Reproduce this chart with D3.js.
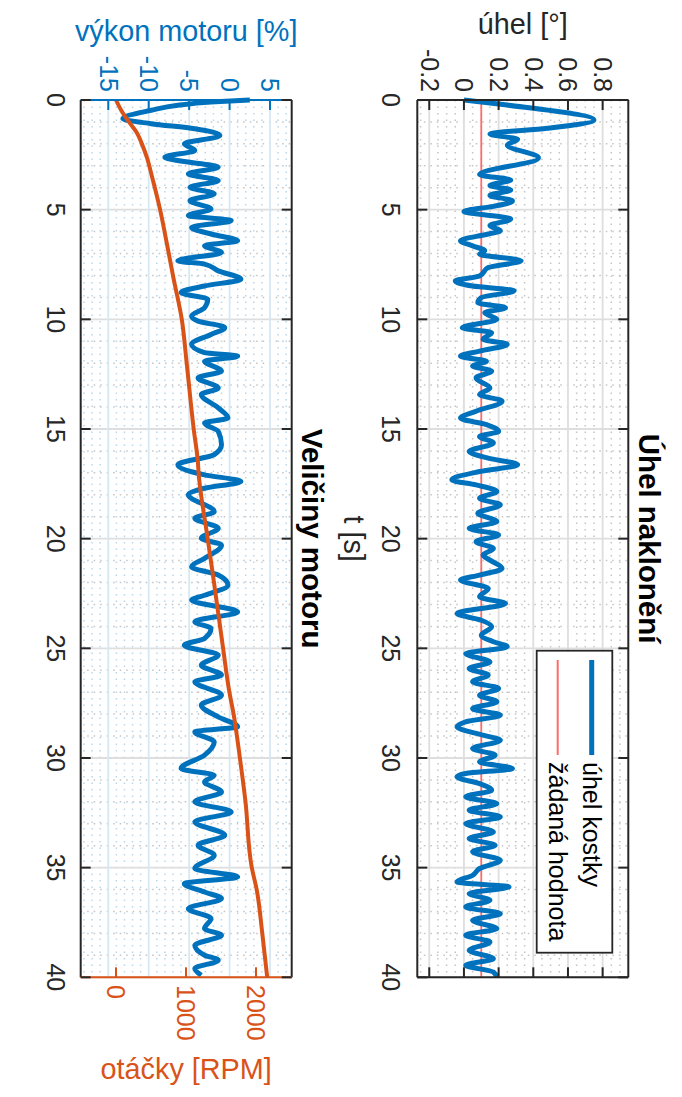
<!DOCTYPE html>
<html><head><meta charset="utf-8">
<script src="https://cdn.jsdelivr.net/npm/d3@7"></script>
<style>
body{margin:0;background:#fff}
svg{display:block}
text{font-family:"Liberation Sans",Arial,Helvetica,sans-serif;fill:#262626}
</style>
</head><body>
<svg id="c" width="682" height="1097"></svg>
<script>
// ---------- data ----------
const tTicks = [0,5,10,15,20,25,30,35,40];
const angleTicks = [-0.2,0,0.2,0.4,0.6,0.8];
const angleTickLabels = ["-0.2","0","0.2","0.4","0.6","0.8"];
const powerTicks = [-15,-10,-5,0,5];
const powerTickLabels = ["-15","-10","-5","0","5"];
const rpmTicks = [0,1000,2000];
const rpmTickLabels = ["0","1000","2000"];
const setpoint = 0.1;

const angleTime = [0,0.23,0.91,1.29,1.55,1.79,2.05,2.64,3.40,3.65,3.9,4.1,4.35,4.6,4.85,5.08,5.43,5.73,5.96,6.11,6.42,6.65,6.87,7.03,7.33,7.64,8.02,8.25,8.48,8.70,9.01,9.24,9.47,9.70,10.0,10.38,10.61,10.91,11.14,11.45,11.68,11.91,12.13,12.36,12.67,13.13,13.43,13.73,14.19,14.50,14.80,15.11,15.34,15.64,16.02,16.33,16.63,16.94,17.32,17.55,17.85,18.16,18.46,18.84,19.22,19.53,19.83,
 20.14,20.45,20.75,20.98,21.36,21.66,21.89,22.27,22.65,22.96,23.41,23.72,24.02,24.40,24.70,24.93,25.24,25.62,25.92,26.22,26.53,26.83,27.14,27.44,27.75,28.05,28.35,28.58,28.96,29.19,29.57,29.87,30.18,30.48,30.71,30.86,31.17,31.47,31.77,32.08,32.38,32.69,32.99,33.37,33.67,33.98,34.28,34.66,35.04,35.35,35.65,35.88,36.18,36.49,36.79,37.10,37.40,37.78,38.08,38.39,38.77,39.15,39.45,39.76,40.0];
const angleValue = [0,0.25,0.75,0.48,0.15,0.31,0.25,0.43,0.09,0.27,0.15,0.27,0.15,0.28,0.17,0.00,0.27,0.15,0.21,0.14,-0.02,0.05,0.12,0.09,0.33,0.14,0.09,-0.05,0.05,0.29,0.10,0.08,0.24,0.12,0.19,-0.01,0.16,0.11,0.25,0.09,-0.02,0.13,0.05,0.16,0.07,0.15,0.09,0.22,0.07,-0.02,0.13,0.20,0.09,0.17,0.03,0.14,0.31,0.09,-0.07,0.07,0.19,0.09,0.21,0.08,0.19,0.03,0.20,
 0.07,0.17,0.11,0.15,0.22,0.09,-0.02,0.14,0.09,0.24,-0.04,0.10,0.16,0.10,0.17,0.25,0.01,0.15,0.03,0.14,0.05,0.20,0.09,0.19,0.05,0.21,0.01,-0.04,0.11,0.21,0.05,0.18,0.09,0.28,0.01,-0.04,0.09,0.16,0.01,0.19,0.03,0.21,0.01,0.17,0.03,0.18,0.05,0.21,0.09,0.05,-0.04,0.26,0.03,0.15,0.01,0.21,0.05,0.19,0.01,0.15,0.03,0.17,0.01,0.17,0.19];

const powerTime = [0,0.09,0.24,0.47,0.85,1.08,1.31,1.62,2.0,2.30,2.61,2.76,3.06,3.37,3.67,3.98,4.28,4.59,4.97,5.27,5.50,5.81,6.11,6.42,6.65,6.95,7.33,7.48,7.79,8.17,8.48,8.78,9.09,9.47,9.85,10.08,10.38,10.69,11.14,11.52,11.68,11.91,12.36,12.67,13.13,13.43,14.04,14.50,14.73,15.11,15.72,16.17,16.63,17.09,17.39,17.70,18.0,18.77,19.07,19.53,19.98,
 20.30,20.90,21.28,21.66,22.12,22.58,22.80,23.34,23.79,24.10,24.55,24.86,25.31,25.77,26.22,26.53,27.14,27.59,28.13,28.58,28.81,29.27,29.87,30.48,30.79,31.09,31.55,32.0,32.46,32.91,33.52,33.98,34.43,35.04,35.42,35.73,36.11,36.41,36.87,37.32,37.78,38.08,38.54,38.99,39.22,39.60,39.91];
const powerValue = [2.5,-2.3,-6.4,-9.7,-13.2,-9.7,-4.3,-1.2,-5.6,-4.3,-8.0,-6.4,-1.4,-5.1,-1.4,-4.9,-1.9,-4.9,-2.3,-5.1,0.2,-4.7,-2.3,1.0,-3.1,-1.0,-6.4,-3.1,-1.4,1.4,-3.1,-6.0,-2.7,-3.1,-4.7,-3.9,-0.6,-2.3,-4.7,-3.1,1.0,-3.1,-1.0,-3.9,-1.4,-3.5,-1.4,-0.2,-3.1,-1.4,-1.0,-1.9,-6.4,-3.1,1.4,-3.1,-5.1,-1.9,-4.3,-1.4,-3.5,
 -1.0,-3.1,-4.7,-1.4,-0.2,-3.1,-4.7,1.0,-4.3,-2.3,-3.1,-5.6,-1.4,-3.5,-1.0,-4.3,-1.0,-3.5,-1.4,1.0,-4.3,-1.9,-3.1,-6.0,-1.9,-3.1,-1.0,-4.3,0.2,-4.3,-0.6,-3.9,-1.9,-4.3,1.0,-5.6,-3.1,-1.0,-5.1,-2.3,-3.1,-1.0,-4.3,-3.1,-1.4,-4.3,-3.5];

const rpmTime = [0,0.5,1,1.5,2,2.6,3.5,5,6.6,8.1,10,12,15,16.5,17,20,22,25,27,28,30,32,35,36,38,40];
const rpmValue = [0,80,185,300,370,440,515,630,730,820,940,1010,1110,1170,1180,1310,1400,1530,1620,1680,1770,1850,1940,2010,2090,2160];

// ---------- style ----------
const BLUE = "#0072BD", ORANGE = "#D95319", RED = "#FF6A6A", AX = "#262626";
const tickFont = 25, labelFont = 28.8, titleFont = 29.5;

const svg = d3.select("#c");
svg.append("rect").attr("width",682).attr("height",1097).attr("fill","#fff");
// original (unrotated) frame: 1097 wide x 682 tall, turned 90° clockwise
const g = svg.append("g").attr("transform","translate(682,0) rotate(90)");

const x = d3.scaleLinear().domain([0,40]).range([100,977.3]);
const yA = d3.scaleLinear().domain([-0.269,0.948]).range([264.7,53.7]);
const yP = d3.scaleLinear().domain([-18.41,7.68]).range([601.3,390.3]);
const yR = d3.scaleLinear().domain([-504,2510]).range([601.3,390.3]);

const tMinor = d3.range(0,40.001,1);

function grid(gg, y, minorVals, majorVals, colMaj, colMin, tColMaj, tColMin){
  const [y0,y1] = y.range();
  const [x0,x1] = x.range();
  gg.selectAll(null).data(tMinor.filter(v=>v%5!==0)).enter().append("line")
    .attr("x1",d=>x(d)).attr("x2",d=>x(d)).attr("y1",y0).attr("y2",y1)
    .attr("stroke",tColMin).attr("stroke-width",1.5).attr("stroke-dasharray","1.5,5");
  gg.selectAll(null).data(minorVals).enter().append("line")
    .attr("y1",d=>y(d)).attr("y2",d=>y(d)).attr("x1",x0).attr("x2",x1)
    .attr("stroke",colMin).attr("stroke-width",1.5).attr("stroke-dasharray","1.5,5");
  gg.selectAll(null).data(tTicks).enter().append("line")
    .attr("x1",d=>x(d)).attr("x2",d=>x(d)).attr("y1",y0).attr("y2",y1)
    .attr("stroke",tColMaj).attr("stroke-width",1.8);
  gg.selectAll(null).data(majorVals).enter().append("line")
    .attr("y1",d=>y(d)).attr("y2",d=>y(d)).attr("x1",x0).attr("x2",x1)
    .attr("stroke",colMaj).attr("stroke-width",1.8);
}

// ===== upper axes: Úhel naklonění =====
const up = g.append("g");
up.append("rect").attr("x",100).attr("y",53.7).attr("width",877.3).attr("height",211).attr("fill","#fff");
const aMinor = d3.range(-0.25,0.95,0.05).filter(v=>Math.abs(Math.round(v*100)%20)!==0 && v>yA.domain()[0] && v<yA.domain()[1]);
grid(up, yA, aMinor, angleTicks, "#dedede", "#c4c4c4", "#dedede", "#c4c4c4");

up.append("line").attr("x1",x(0)).attr("x2",x(40)).attr("y1",yA(setpoint)).attr("y2",yA(setpoint))
  .attr("stroke",RED).attr("stroke-width",1.8);
const angleLine = d3.line().x(d=>x(d[0])).y(d=>yA(d[1])).curve(d3.curveMonotoneX);
up.append("path").datum(d3.zip(angleTime,angleValue)).attr("d",angleLine)
  .attr("fill","none").attr("stroke",BLUE).attr("stroke-width",5).attr("stroke-linejoin","round");

function box(gg, y, y0, y1, cLeft, cRight){
  const X0=x(0), X1=x(40);
  gg.append("line").attr("x1",X0).attr("x2",X1).attr("y1",y0).attr("y2",y0).attr("stroke",AX).attr("stroke-width",2);
  gg.append("line").attr("x1",X0).attr("x2",X1).attr("y1",y1).attr("y2",y1).attr("stroke",AX).attr("stroke-width",2);
  gg.append("line").attr("x1",X0).attr("x2",X0).attr("y1",y0).attr("y2",y1).attr("stroke",cLeft).attr("stroke-width",2);
  gg.append("line").attr("x1",X1).attr("x2",X1).attr("y1",y0).attr("y2",y1).attr("stroke",cRight).attr("stroke-width",2);
  gg.selectAll(null).data(tTicks).enter().append("line")
    .attr("x1",d=>x(d)).attr("x2",d=>x(d)).attr("y1",y0).attr("y2",y0-10).attr("stroke",AX).attr("stroke-width",2);
  gg.selectAll(null).data(tTicks).enter().append("line")
    .attr("x1",d=>x(d)).attr("x2",d=>x(d)).attr("y1",y1).attr("y2",y1+10).attr("stroke",AX).attr("stroke-width",2);
}
box(up, yA, 264.7, 53.7, AX, AX);
up.selectAll(null).data(angleTicks).enter().append("line")
  .attr("x1",x(0)).attr("x2",x(0)+10).attr("y1",d=>yA(d)).attr("y2",d=>yA(d)).attr("stroke",AX).attr("stroke-width",2);
up.selectAll(null).data(angleTicks).enter().append("line")
  .attr("x1",x(40)).attr("x2",x(40)-10).attr("y1",d=>yA(d)).attr("y2",d=>yA(d)).attr("stroke",AX).attr("stroke-width",2);

up.selectAll(null).data(tTicks).enter().append("text")
  .attr("x",d=>x(d)).attr("y",300).attr("text-anchor","middle").attr("font-size",tickFont).text(d=>d);
up.selectAll(null).data(angleTicks).enter().append("text")
  .attr("x",92).attr("y",d=>yA(d)).attr("dy","0.35em").attr("text-anchor","end").attr("font-size",tickFont)
  .text((d,i)=>angleTickLabels[i]);
up.append("text").attr("transform","translate(34,159.2) rotate(-90)").attr("text-anchor","middle")
  .attr("font-size",labelFont).text("úhel [°]");
up.append("text").attr("x",538.6).attr("y",338).attr("text-anchor","middle").attr("font-size",labelFont).text("t [s]");
up.append("text").attr("x",538.6).attr("y",43.4).attr("text-anchor","middle").attr("font-size",titleFont)
  .attr("font-weight","bold").style("fill","#000").text("Úhel naklonění");

const lg = up.append("g");
lg.append("rect").attr("x",650.7).attr("y",69.7).attr("width",302).attr("height",75.6)
  .attr("fill","#fff").attr("stroke",AX).attr("stroke-width",1.8);
const legItems = [["úhel kostky",BLUE,5,90.3],["žádaná hodnota",RED,2,124.3]];
legItems.forEach(([name,col,w,yy])=>{
  lg.append("line").attr("x1",660).attr("x2",755).attr("y1",yy).attr("y2",yy).attr("stroke",col).attr("stroke-width",w);
  lg.append("text").attr("x",762).attr("y",yy+9).attr("font-size",tickFont).style("fill","#000").text(name);
});

// ===== lower axes: Veličiny motoru =====
const lo = g.append("g");
lo.append("rect").attr("x",100).attr("y",390.3).attr("width",877.3).attr("height",211).attr("fill","#fff");
const pMinor = d3.range(-18,8,1).filter(v=>v%5!==0);
grid(lo, yP, pMinor, powerTicks, "#d6e8f4", "#b9d7ec", "#dedede", "#c4c4c4");

const powerLine = d3.line().x(d=>x(d[0])).y(d=>yP(d[1])).curve(d3.curveMonotoneX);
lo.append("path").datum(d3.zip(powerTime,powerValue)).attr("d",powerLine)
  .attr("fill","none").attr("stroke",BLUE).attr("stroke-width",5).attr("stroke-linejoin","round");
const rpmLine = d3.line().x(d=>x(d[0])).y(d=>yR(d[1])).curve(d3.curveMonotoneX);
lo.append("path").datum(d3.zip(rpmTime,rpmValue)).attr("d",rpmLine)
  .attr("fill","none").attr("stroke",ORANGE).attr("stroke-width",4).attr("stroke-linejoin","round");

box(lo, yP, 601.3, 390.3, BLUE, ORANGE);
lo.selectAll(null).data(powerTicks).enter().append("line")
  .attr("x1",x(0)).attr("x2",x(0)+10).attr("y1",d=>yP(d)).attr("y2",d=>yP(d)).attr("stroke",BLUE).attr("stroke-width",2);
lo.selectAll(null).data(rpmTicks).enter().append("line")
  .attr("x1",x(40)).attr("x2",x(40)-10).attr("y1",d=>yR(d)).attr("y2",d=>yR(d)).attr("stroke",ORANGE).attr("stroke-width",2);

lo.selectAll(null).data(tTicks).enter().append("text")
  .attr("x",d=>x(d)).attr("y",635).attr("text-anchor","middle").attr("font-size",tickFont).text(d=>d);
lo.selectAll(null).data(powerTicks).enter().append("text")
  .attr("x",92).attr("y",d=>yP(d)).attr("dy","0.35em").attr("text-anchor","end").attr("font-size",tickFont)
  .style("fill",BLUE).text((d,i)=>powerTickLabels[i]);
lo.selectAll(null).data(rpmTicks).enter().append("text")
  .attr("x",985).attr("y",d=>yR(d)).attr("dy","0.35em").attr("text-anchor","start").attr("font-size",tickFont)
  .style("fill",ORANGE).text((d,i)=>rpmTickLabels[i]);
lo.append("text").attr("transform","translate(40.7,495.8) rotate(-90)").attr("text-anchor","middle")
  .attr("font-size",labelFont).style("fill",BLUE).text("výkon motoru [%]");
lo.append("text").attr("transform","translate(1079,495.8) rotate(-90)").attr("text-anchor","middle")
  .attr("font-size",labelFont).style("fill",ORANGE).text("otáčky [RPM]");
lo.append("text").attr("x",538.6).attr("y",380).attr("text-anchor","middle").attr("font-size",titleFont)
  .attr("font-weight","bold").style("fill","#000").text("Veličiny motoru");
</script>
</body></html>
